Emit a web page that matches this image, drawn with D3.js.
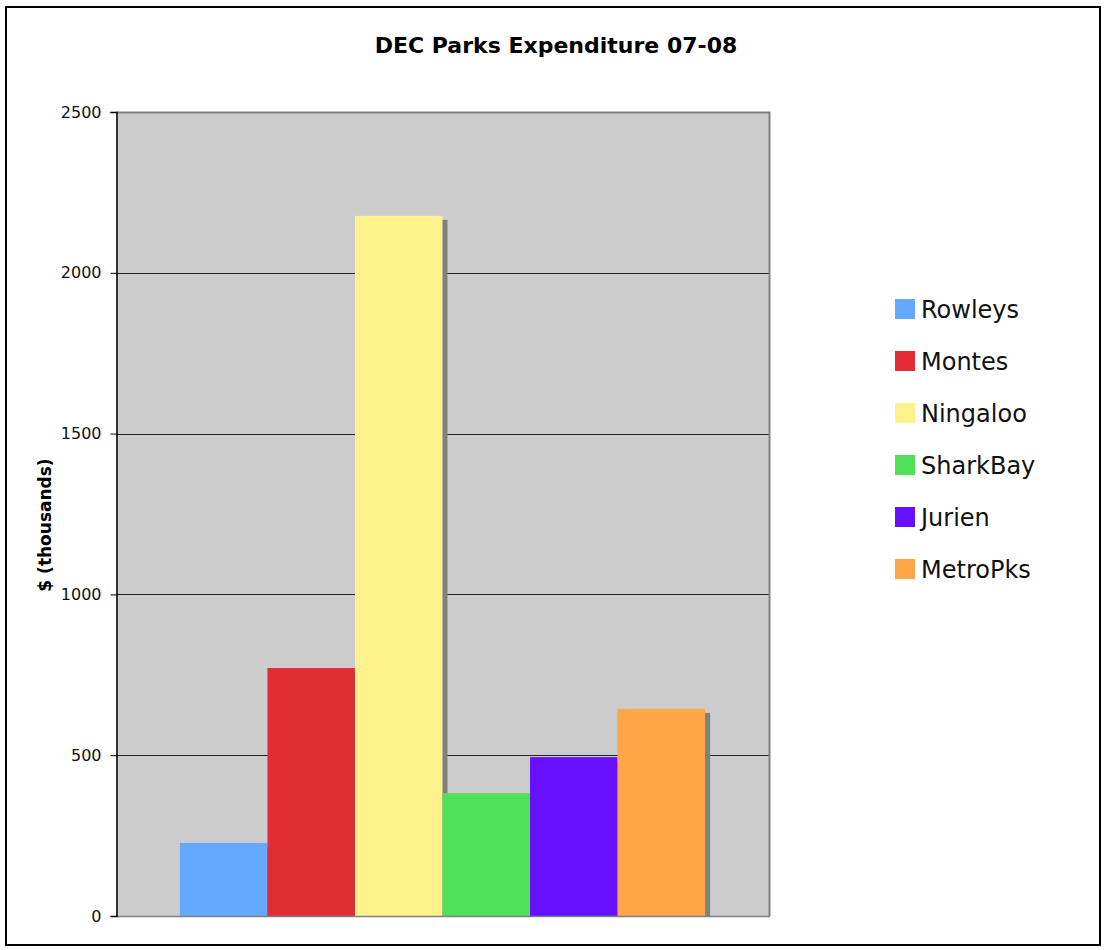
<!DOCTYPE html>
<html>
<head>
<meta charset="utf-8">
<script src="https://cdn.jsdelivr.net/npm/d3@7"></script>
<style>
  html, body { margin: 0; padding: 0; background: #fff; }
  svg { display: block; }
  text { font-family: "DejaVu Sans", Verdana, sans-serif; }
</style>
</head>
<body>
<svg id="chart" width="1106" height="950"></svg>
<script>
const categories = ["Rowleys", "Montes", "Ningaloo", "SharkBay", "Jurien", "MetroPks"];
const values = [227, 771, 2177, 382, 494, 644];
const colors = ["#63a9ff", "#e02c32", "#fff28c", "#4fe158", "#6610ff", "#ffa646"];
const yTicks = [0, 500, 1000, 1500, 2000, 2500];
const title = "DEC Parks Expenditure 07-08";
const yLabel = "$ (thousands)";

const svg = d3.select("#chart");

// outer frame
svg.append("rect").attr("x", 6).attr("y", 7).attr("width", 1094).attr("height", 938)
  .attr("fill", "#fff").attr("stroke", "#000").attr("stroke-width", 2);

const plot = { left: 116, top: 112, right: 769, bottom: 916 };
const W = plot.right - plot.left, H = plot.bottom - plot.top;

const y = d3.scaleLinear().domain([0, 2500]).range([plot.bottom, plot.top]);
const x = d3.scaleBand().domain(categories).range([plot.left, plot.right])
  .paddingInner(0).paddingOuter(0.73);

// plot background
svg.append("rect").attr("x", plot.left).attr("y", plot.top).attr("width", W).attr("height", H)
  .attr("fill", "#cccccc");

// gridlines
svg.append("g").selectAll("line").data(yTicks.filter(t => t > 0 && t < 2500)).join("line")
  .attr("x1", plot.left).attr("x2", plot.right)
  .attr("y1", d => Math.round(y(d)) + 0.5).attr("y2", d => Math.round(y(d)) + 0.5)
  .attr("stroke", "#222").attr("stroke-width", 1);

// plot border top/right
svg.append("path")
  .attr("d", `M${plot.left},${plot.top + 0.5}H${plot.right + 0.5}V${plot.bottom}`)
  .attr("fill", "none").attr("stroke", "#808080").attr("stroke-width", 2);

// clip
svg.append("clipPath").attr("id", "clip").append("rect")
  .attr("x", plot.left).attr("y", plot.top).attr("width", W + 10).attr("height", H);

const data = categories.map((c, i) => ({ c, v: values[i], col: colors[i] }));
const g = svg.append("g").attr("clip-path", "url(#clip)");

// shadows
g.selectAll("rect.sh").data(data).join("rect").attr("class", "sh")
  .attr("x", d => x(d.c) + 5).attr("y", d => y(d.v) + 4)
  .attr("width", x.bandwidth()).attr("height", d => plot.bottom - y(d.v))
  .attr("fill", "#808080");

// bars
g.selectAll("rect.bar").data(data).join("rect").attr("class", "bar")
  .attr("x", d => x(d.c)).attr("y", d => y(d.v))
  .attr("width", x.bandwidth()).attr("height", d => plot.bottom - y(d.v))
  .attr("fill", d => d.col);

// bottom axis line
svg.append("line").attr("x1", plot.left).attr("x2", plot.right + 1)
  .attr("y1", plot.bottom + 0.5).attr("y2", plot.bottom + 0.5)
  .attr("stroke", "#808080").attr("stroke-width", 1.5);

// y axis
const yAxis = d3.axisLeft(y).tickValues(yTicks).tickFormat(d3.format("d")).tickSize(6).tickPadding(9);
const ya = svg.append("g").attr("transform", `translate(${plot.left + 0.5},0)`).call(yAxis);
ya.attr("font-size", 16).attr("font-family", "'DejaVu Sans', Verdana, sans-serif");
ya.select(".domain").attr("stroke", "#000").attr("stroke-width", 1.5);
ya.selectAll(".tick line").attr("stroke", "#000");
ya.selectAll(".tick text").attr("fill", "#111");

// title
svg.append("text").attr("x", 556).attr("y", 53).attr("text-anchor", "middle")
  .attr("font-size", 22).attr("font-weight", "bold").attr("fill", "#000").text(title);

// y label
svg.append("text").attr("transform", `translate(51,525) rotate(-90)`)
  .attr("text-anchor", "middle").attr("font-size", 17).attr("font-weight", "bold")
  .attr("fill", "#000").text(yLabel);

// legend
const lg = svg.append("g").selectAll("g").data(data).join("g")
  .attr("transform", (d, i) => `translate(895,${299 + i * 52})`);
lg.append("rect").attr("width", 20).attr("height", 20).attr("fill", d => d.col);
lg.append("text").attr("x", 26).attr("y", 19).attr("font-size", 24).attr("fill", "#111")
  .text(d => d.c);
</script>
</body>
</html>
